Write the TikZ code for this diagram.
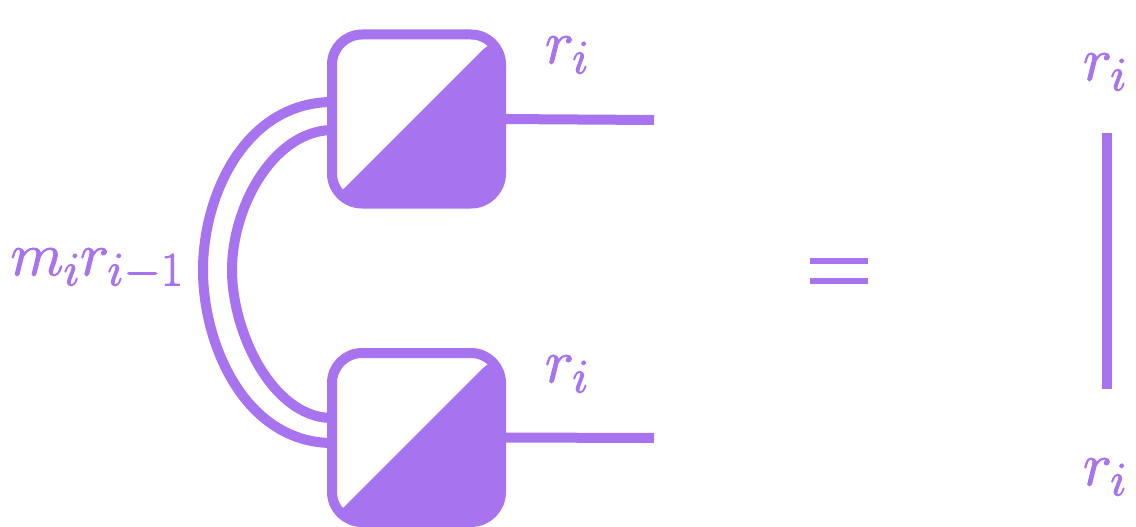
\RequirePackage{fix-cm}
\documentclass[tikz,border=0pt]{standalone}
\DeclareMathSizes{62}{62}{48}{36}
\definecolor{vio}{HTML}{A873EE}
\newcommand{\heavy}[1]{\special{pdf:code 2 Tr 0.9 w 0.659 0.451 0.933 RG}#1\special{pdf:code 0 Tr}}
\tikzset{
  tnbox/.style={draw=vio,line width=10pt,rounded corners=30pt,minimum width=169pt,minimum height=169pt,inner sep=0pt,outer sep=0pt,
    path picture={\fill[vio] ([xshift=-20pt,yshift=20pt]path picture bounding box.south west) ++(0,-37pt) -- ++(190pt,190pt) -- ++(40pt,0) -- ++(0,-220pt) -- ++(-240pt,0) -- cycle;}},
  wire/.style={draw=vio,line width=10pt},
  eqbar/.style={draw=vio,line width=6pt},
  lab/.style={text=vio,inner sep=0pt,font=\fontsize{62}{66}\selectfont}
}
\begin{document}
\begin{tikzpicture}[x=1pt,y=-1pt]
\useasboundingbox (0,0) rectangle (1136,527);
\node[tnbox] (A) at (416.5,119) {};
\node[tnbox] (B) at (416.5,437.5) {};
\coordinate (A1) at (330,102);
\coordinate (A2) at (330,130);
\coordinate (B1) at (330,418);
\coordinate (B2) at (330,443);
\coordinate (O) at (203,270);
\coordinate (I) at (232,270);
\coordinate (Ae) at (654,120);
\coordinate (Be) at (654,438);
\coordinate (Vt) at (1107,133);
\coordinate (Vb) at (1107,389);
\coordinate (E1a) at (810,261);
\coordinate (E1b) at (868,261);
\coordinate (E2a) at (810,281);
\coordinate (E2b) at (868,281);
\draw[wire] (A1) .. controls (245,104) and (203,195) .. (O) .. controls (203,345) and (245,441) .. (B2);
\draw[wire] (A2) .. controls (272,133) and (232,208) .. (I) .. controls (232,332) and (272,416) .. (B1);
\draw[wire] (A.east) -- (Ae);
\draw[wire] (B.east) -- (Be);
\draw[wire] (Vt) -- (Vb);
\draw[eqbar] (E1a) -- (E1b);
\draw[eqbar] (E2a) -- (E2b);
\node[lab] (l1) at (567,55) {\heavy{$r_i$}};
\node[lab] (l2) at (567,374) {\heavy{$r_i$}};
\node[lab] (l3) at (1105,72) {\heavy{$r_i$}};
\node[lab] (l4) at (1105,477) {\heavy{$r_i$}};
\node[lab] (l5) at (97,269) {\heavy{$m_ir_{i-1}$}};
\end{tikzpicture}
\end{document}
